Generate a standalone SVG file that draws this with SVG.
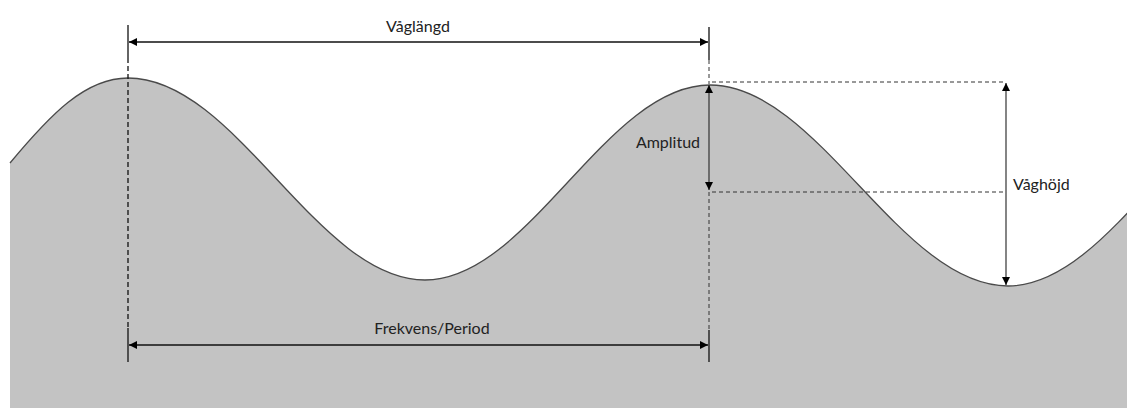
<svg xmlns="http://www.w3.org/2000/svg" width="1127" height="408" viewBox="0 0 1127 408">
<defs>
<style>
.wave{fill:none;stroke:#4a4a4a;stroke-width:1.3}
.fill{fill:#c3c3c3;stroke:none}
.dim{stroke:#111;stroke-width:1.3;fill:none}
.gdim{stroke:#333;stroke-width:1.2;fill:none}
.dash{stroke:#111;stroke-width:1.3;stroke-dasharray:5,3;fill:none}
.gdash{stroke:#333;stroke-width:1;stroke-dasharray:4,3;fill:none}
.lbl{font-family:Lato,"Liberation Sans",sans-serif;font-size:16px;fill:#222}
</style>
<marker id="ah" viewBox="0 0 10 10" refX="10" refY="5" markerWidth="8" markerHeight="8" markerUnits="userSpaceOnUse" orient="auto-start-reverse">
<path d="M0,0 L10,5 L0,10 Z" fill="#000"/>
</marker>
</defs>
<g id="wave">
<path class="fill" d="M10,163 C50,115 85,78 128,78 C236,78 317,280 425,280 C529,280 606,85 710,85 C818,85 900,286 1008,286 C1114,286 1192,85 1298,85 L1298,408 L10,408 Z"/>
<path class="wave" d="M10,163 C50,115 85,78 128,78 C236,78 317,280 425,280 C529,280 606,85 710,85 C818,85 900,286 1008,286 C1114,286 1192,85 1298,85"/>
</g>
<g id="connectors">
<line class="dim" x1="128" y1="25" x2="128" y2="58"/>
<line class="dash" x1="128" y1="58" x2="128" y2="328"/>
<line class="dim" x1="128" y1="328" x2="128" y2="362"/>
<line class="dim" x1="709" y1="27" x2="709" y2="60"/>
<line class="gdash" x1="709" y1="60" x2="709" y2="84"/>
<line class="gdash" x1="709" y1="192" x2="709" y2="330"/>
<line class="dim" x1="709" y1="330" x2="709" y2="362"/>
<line class="gdash" x1="712" y1="82" x2="1006" y2="82"/>
<line class="gdash" x1="712" y1="192" x2="1006" y2="192"/>
<line class="dim" x1="129" y1="42" x2="708" y2="42" marker-start="url(#ah)" marker-end="url(#ah)"/>
<line class="dim" x1="129" y1="345" x2="708" y2="345" marker-start="url(#ah)" marker-end="url(#ah)"/>
<line class="gdim" x1="709" y1="85" x2="709" y2="190" marker-start="url(#ah)" marker-end="url(#ah)"/>
<line class="gdim" x1="1006" y1="83" x2="1006" y2="285" marker-start="url(#ah)" marker-end="url(#ah)"/>
</g>
<g id="label-vaglangd"><text class="lbl" x="418" y="32" text-anchor="middle">Våglängd</text></g>
<g id="label-amplitud"><text class="lbl" x="668" y="148" text-anchor="middle">Amplitud</text></g>
<g id="label-vaghojd"><text class="lbl" x="1013" y="190">Våghöjd</text></g>
<g id="label-frekvens"><text class="lbl" x="432" y="334" text-anchor="middle">Frekvens/Period</text></g>
</svg>
